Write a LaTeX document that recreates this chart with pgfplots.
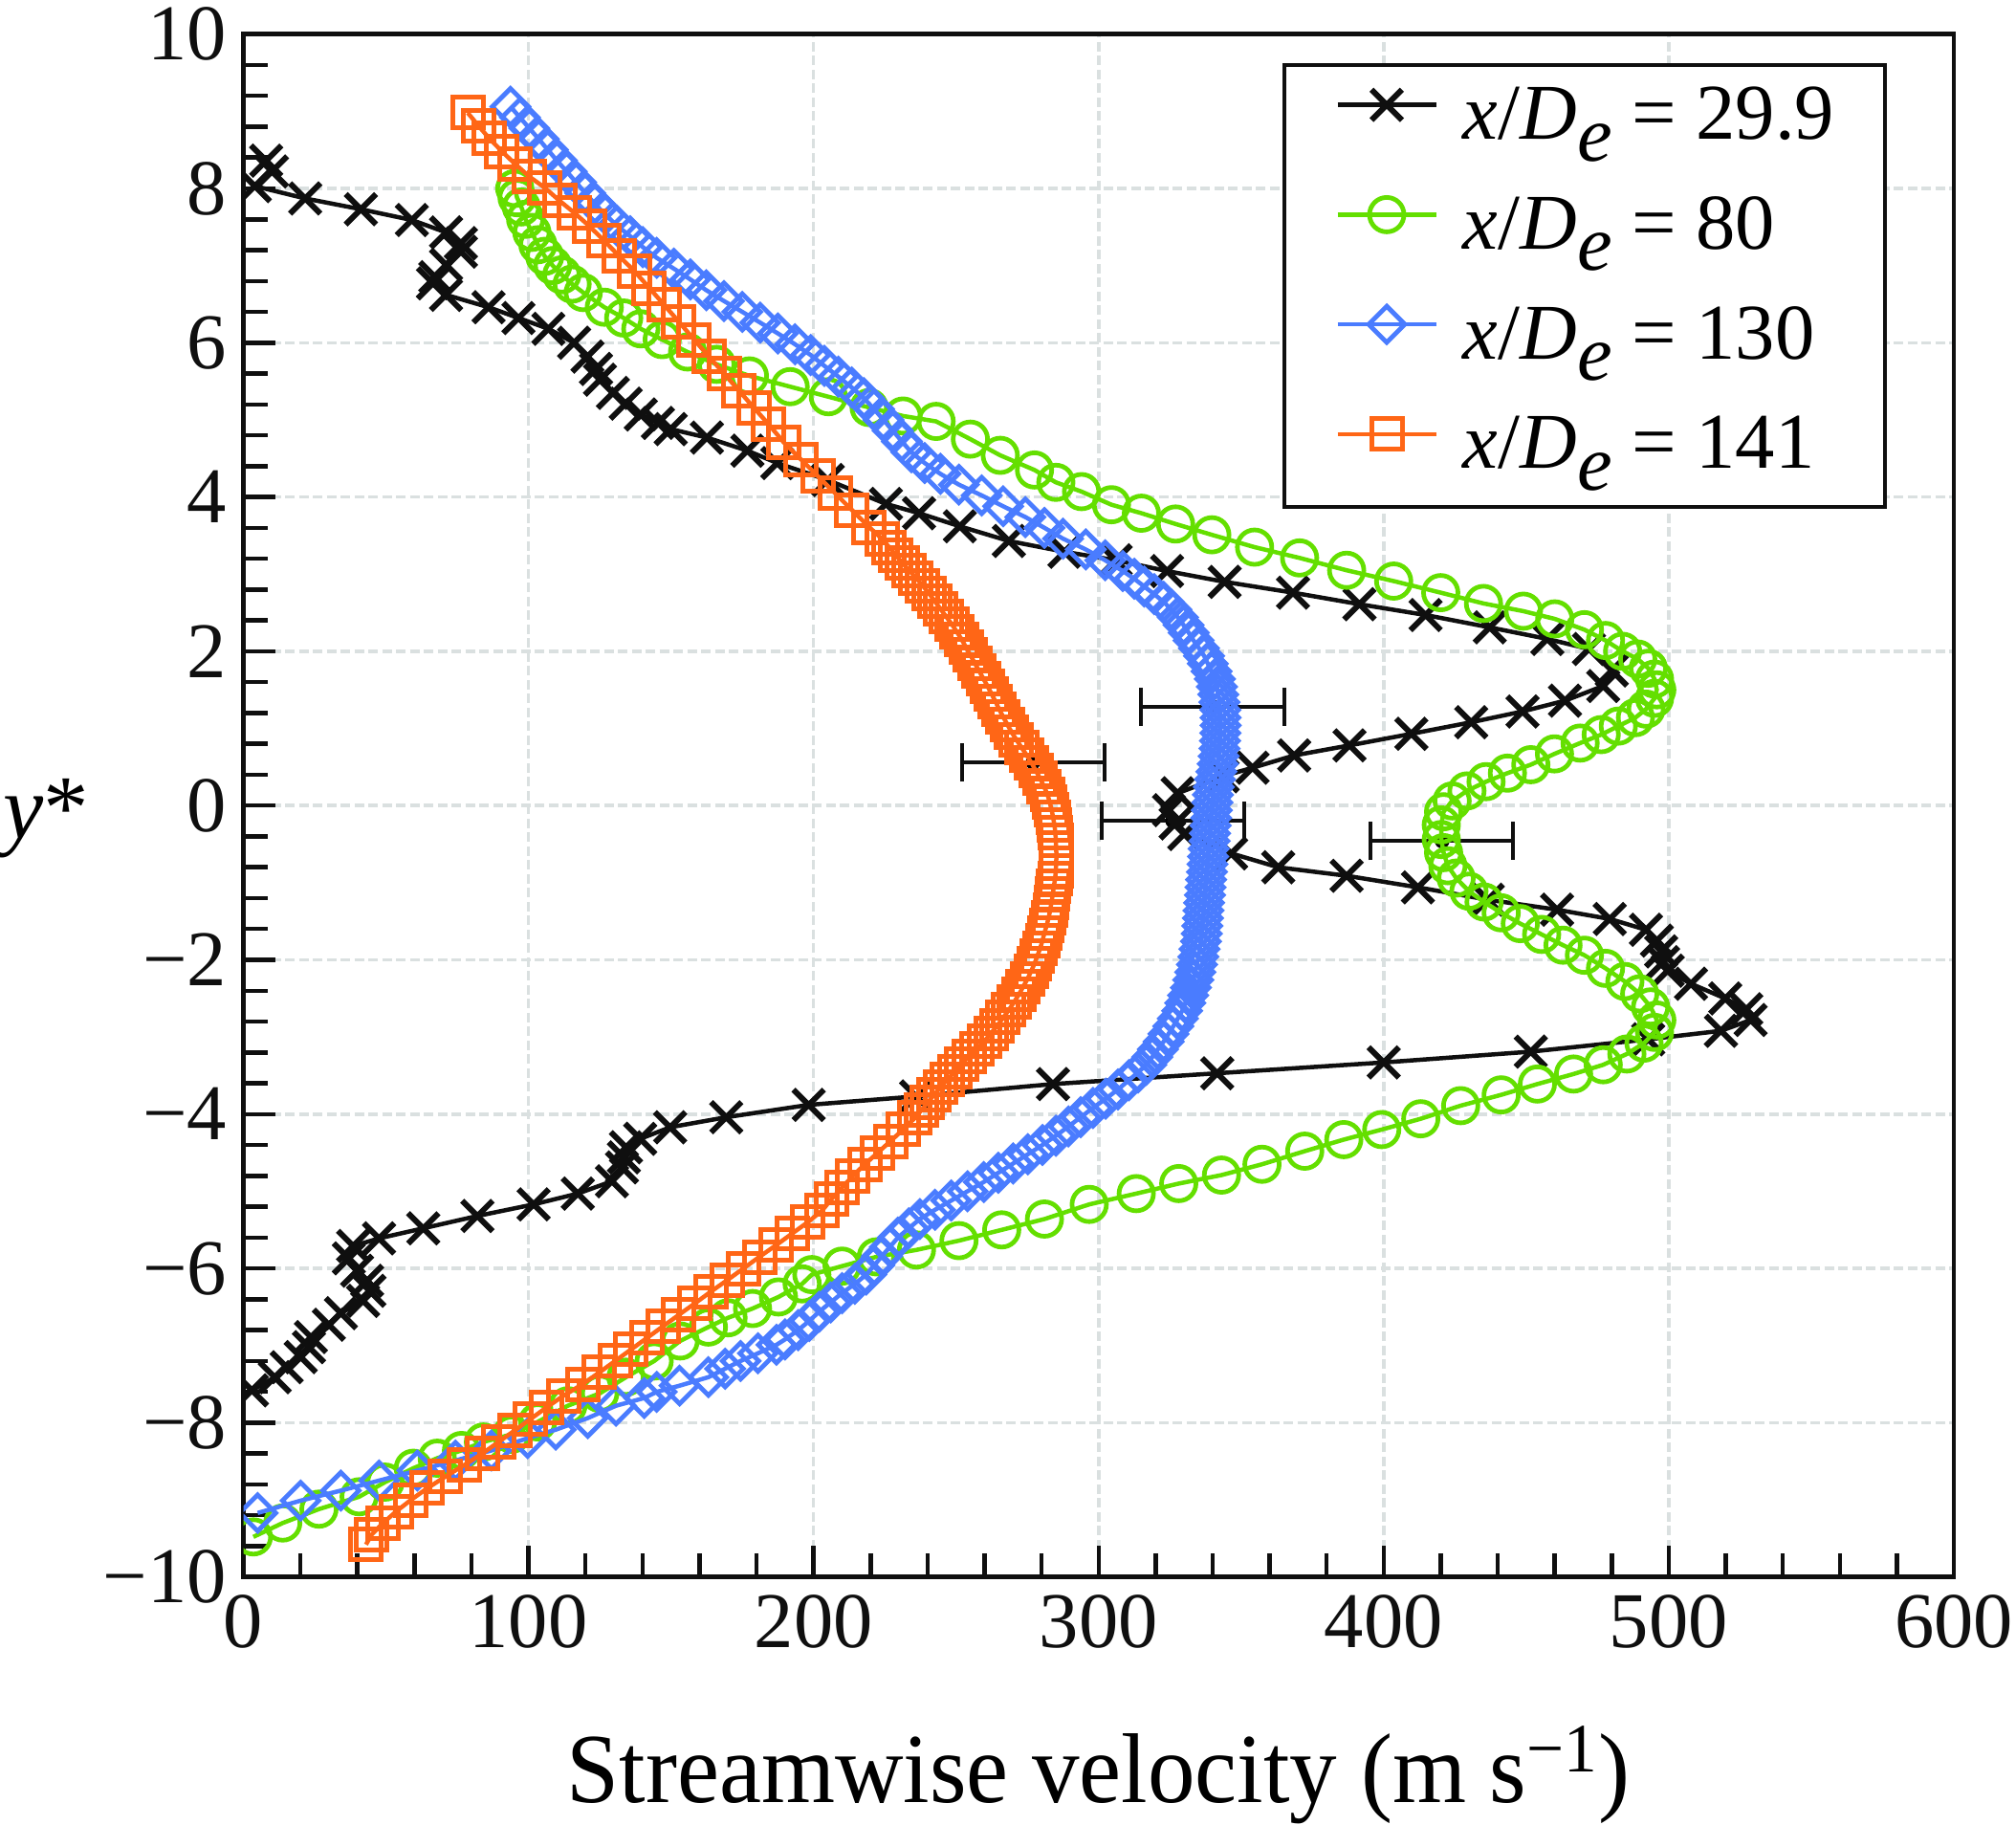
\documentclass[border=0pt]{standalone}
\usepackage{fontspec}
\setmainfont{Liberation Serif}
\usepackage{graphicx}
\usepackage{pgfplots}
\pgfplotsset{compat=1.18}
\definecolor{cgreen}{RGB}{100,223,0}
\definecolor{cblue}{RGB}{74,124,255}
\definecolor{corange}{RGB}{255,102,22}
\definecolor{cblack}{RGB}{15,15,15}
\definecolor{gridgray}{RGB}{218,224,224}
\newcommand{\leg}[1]{\textit{x}/\textit{D}\raisebox{-0.27em}{\textit{e}} = #1}
\begin{document}
\begin{tikzpicture}
\useasboundingbox (0,0) rectangle (210.8mm,190.7mm);
\begin{axis}[
  at={(25.45mm,25.83mm)}, anchor=south west,
  scale only axis, width=178.85mm, height=161.3mm,
  xmin=0, xmax=600, ymin=-10, ymax=10,
  xtick={0,100,200,300,400,500,600},
  xticklabels={0,100,200,300,400,500,600},
  ytick={-10,-8,-6,-4,-2,0,2,4,6,8,10},
  yticklabels={−10,−8,−6,−4,−2,0,2,4,6,8,10},
  minor x tick num=4, minor y tick num=4,
  tick pos=left, tick align=inside,
  major tick length=3.3mm, minor tick length=2.5mm,
  every tick/.style={line width=0.45mm, cblack},
  axis line style={line width=0.45mm, cblack},
  ticklabel style={font=\fontsize{23.5}{28}\selectfont, cblack},
  xticklabel style={yshift=-0.6mm},
  yticklabel style={xshift=-0.5mm},
  grid=major,
  major grid style={dash pattern=on 1mm off 0.45mm, line width=0.35mm, gridgray},
  xlabel={\scalebox{0.955}[1]{Streamwise velocity (m s\textsuperscript{−1})}},
  xlabel style={font=\fontsize{29.5}{35}\selectfont, at={(axis description cs:0.5,0)}, anchor=base, yshift=-23.6mm},
  ylabel={\textit{y}*},
  ylabel style={font=\fontsize{27}{32}\selectfont, at={(axis description cs:0,0.5)}, rotate=-90, anchor=base west, inner sep=0pt, xshift=-25.2mm, yshift=-3.4mm},
  clip marker paths=true,
  legend style={at={(0.9609,0.9814)}, anchor=north east, draw=cblack, line width=0.4mm,
    font=\fontsize{23.5}{28}\selectfont, inner xsep=5.3mm, inner ysep=1.6mm,
    row sep=2.87mm,
    nodes={inner sep=0pt, text height=6.2mm, text depth=2.4mm}},
  legend cell align=left,
  /tikz/every odd column/.append style={column sep=2.6mm},
  legend image code/.code={\draw[mark repeat=2,mark phase=2,#1] plot coordinates {(0mm,1.7mm) (5.15mm,1.7mm) (10.3mm,1.7mm)};},
]
% error bars
\addplot[only marks, mark=none, forget plot,
  error bars/.cd, x dir=both, x explicit,
  error bar style={draw=cblack, solid, line width=0.4mm},
  error mark options={draw=cblack, solid, line width=0.4mm, mark size=2mm, rotate=90}]
  coordinates {(340,1.28) +- (25,0) (277,0.56) +- (25,0) (326,-0.20) +- (25,0) (420.5,-0.46) +- (25,0)};

% x/De = 29.9
\addplot[cblack, line width=0.45mm, mark=x, mark size=2.25mm, mark options={line width=0.6mm, solid}] table {
8 8.36
10 8.22
4 8.03
21.7 7.87
41.2 7.73
59.1 7.59
71.1 7.43
76.3 7.29
76.3 7.18
71.1 7.01
67.3 6.85
66.5 6.77
71.1 6.62
86 6.46
96.5 6.32
107 6.18
116 6.00
120.7 5.82
123.7 5.66
125.1 5.52
129.6 5.35
134.1 5.21
139.4 5.07
145.4 4.96
149.9 4.88
162.6 4.77
176.8 4.60
187.3 4.44
205 4.22
225.4 3.91
237 3.79
251.3 3.62
268.5 3.43
288 3.29
306 3.18
324 3.04
344.2 2.90
368.2 2.76
391.5 2.61
414.7 2.47
437.2 2.31
457.4 2.16
472 2.03
480 1.75
477 1.55
463.6 1.36
448.7 1.22
430.7 1.08
409.7 0.93
388 0.78
368.6 0.65
354 0.49
343.5 0.38
327.7 0.16
324.7 -0.06
327 -0.23
330 -0.37
346.5 -0.62
363 -0.80
387 -0.91
412 -1.06
436.5 -1.22
460.8 -1.35
479.3 -1.47
492 -1.61
495.8 -1.75
497.3 -1.89
498 -2.03
499.6 -2.14
507.8 -2.31
519.8 -2.50
527.2 -2.64
528.7 -2.78
518.3 -2.92
492.8 -3.03
451.6 -3.19
400 -3.33
341.6 -3.47
284 -3.61
236 -3.77
198.3 -3.88
169.4 -4.04
149.7 -4.17
139.2 -4.32
134.2 -4.43
133.5 -4.56
132.8 -4.69
129.3 -4.87
117.3 -5.03
101.8 -5.17
82.1 -5.32
63.1 -5.48
47.6 -5.61
38.5 -5.71
37 -5.87
39.9 -6.03
43.4 -6.16
44.2 -6.29
42 -6.42
34.2 -6.58
30 -6.73
23.7 -6.89
23 -7.02
20.1 -7.15
15.2 -7.28
11 -7.41
3 -7.58
};
\addlegendentry{\leg{29.9}}

% x/De = 80
\addplot[cgreen, line width=0.45mm, mark=o, mark size=1.8mm, mark options={line width=0.48mm, solid}] table {
95.2 8.00
96 7.88
97.5 7.76
99 7.60
101.2 7.43
103.3 7.27
105.7 7.12
108.5 7.00
111.7 6.88
115.3 6.76
119.2 6.65
126.6 6.46
133.4 6.32
139.4 6.18
146.9 6.04
155.8 5.88
166 5.72
177.5 5.57
191.8 5.43
205.2 5.30
219.5 5.16
231.4 5.05
243 4.98
255 4.75
265.5 4.54
277.5 4.35
285 4.19
294 4.07
304.5 3.90
315 3.79
327 3.65
339.7 3.51
354.7 3.35
370.5 3.21
387 3.05
403.5 2.91
420 2.76
435 2.62
449 2.52
460 2.42
470.4 2.28
477.8 2.14
483.8 2.00
489.1 1.90
492.8 1.78
495 1.64
495.8 1.50
495 1.39
492 1.25
488.3 1.14
482.3 1.03
476.3 0.92
468.9 0.81
459.9 0.67
451.6 0.53
443.4 0.42
435.9 0.31
429.2 0.19
424 0.06
421 -0.08
420.2 -0.25
420.2 -0.44
421 -0.61
422.5 -0.78
425.4 -0.94
429.9 -1.11
435.2 -1.25
441.2 -1.39
447.9 -1.53
455.4 -1.67
462.9 -1.81
470.4 -1.94
477.8 -2.11
484.6 -2.28
489.8 -2.44
493.6 -2.61
495.8 -2.78
495 -2.94
491.3 -3.08
485.3 -3.22
477 -3.36
466.6 -3.48
453.9 -3.61
441.2 -3.75
427 -3.89
413 -4.06
399.3 -4.20
386 -4.33
372.3 -4.48
357.3 -4.65
343.1 -4.79
328.1 -4.90
313.2 -5.03
296.7 -5.17
281 -5.36
266 -5.50
251 -5.64
236.1 -5.76
222 -5.85
210 -5.97
199.4 -6.08
196 -6.20
187.7 -6.37
178.6 -6.52
170 -6.64
163.1 -6.76
153.2 -6.94
144.1 -7.20
134.2 -7.41
125 -7.62
113.8 -7.78
103.2 -7.99
94.1 -8.15
84.2 -8.25
76.5 -8.36
68 -8.46
59.6 -8.59
49.7 -8.77
40.6 -8.96
26.5 -9.12
13.8 -9.30
3.5 -9.48
};
\addlegendentry{\leg{80}}

% x/De = 130
\addplot[cblue, line width=0.45mm, mark=square, mark size=1.34mm, mark options={line width=0.48mm, solid, rotate=45}] table {
93.7 9.06
97 8.92
100.3 8.78
103.6 8.64
106.8 8.50
110 8.36
113.4 8.22
116.7 8.08
119.9 7.94
123.3 7.80
127 7.66
131 7.52
135.7 7.38
140.1 7.24
145 7.10
151 6.96
156.8 6.82
162.4 6.68
168.6 6.54
175 6.40
181.3 6.26
187.5 6.12
193.5 5.98
199 5.84
203.8 5.70
208.7 5.56
213.4 5.42
217.7 5.28
221.2 5.14
224.5 5.00
227.8 4.86
231 4.72
234.3 4.58
239 4.44
244.5 4.30
251 4.16
259 4.02
266.5 3.88
274.3 3.74
281 3.60
287.5 3.46
295.5 3.32
302.3 3.18
308.5 3.04
312.5 2.94
316 2.84
319.5 2.74
322.8 2.64
325.5 2.54
327.8 2.44
329.8 2.34
331.6 2.24
333.3 2.14
335.2 2.04
337 1.94
338.3 1.84
339.6 1.74
340.8 1.64
341.5 1.54
342 1.44
342.4 1.34
342.7 1.24
342.8 1.14
342.8 1.04
342.7 0.94
342.6 0.84
342.4 0.74
342.1 0.64
341.8 0.54
341.3 0.44
340.8 0.34
340.4 0.24
340.1 0.14
339.9 0.04
339.7 -0.06
339.5 -0.16
339.3 -0.26
339.1 -0.36
338.9 -0.46
338.6 -0.56
338.4 -0.66
338.2 -0.76
338 -0.86
337.7 -0.96
337.5 -1.06
337.3 -1.16
337 -1.26
336.8 -1.36
336.6 -1.46
336.4 -1.56
336.2 -1.66
335.9 -1.76
335.4 -1.86
335 -1.96
334.5 -2.06
333.9 -2.16
333.2 -2.26
332.4 -2.36
331.4 -2.46
330.4 -2.56
329.3 -2.66
327.8 -2.76
326.2 -2.86
324.5 -2.96
322.8 -3.06
320.8 -3.16
318.8 -3.26
316.7 -3.36
313.8 -3.46
310.6 -3.56
306.8 -3.68
302.5 -3.80
298 -3.92
293.7 -4.04
289.4 -4.16
285 -4.28
280.3 -4.40
275.2 -4.52
270 -4.64
264.8 -4.76
259.7 -4.88
254 -5.00
248.3 -5.12
242.6 -5.24
237.3 -5.36
233.4 -5.48
229.6 -5.60
226.8 -5.72
224 -5.84
221.3 -5.96
218.5 -6.08
214.5 -6.20
210 -6.32
206 -6.44
202 -6.56
198.5 -6.68
194.6 -6.80
190 -6.92
187 -6.99
180.5 -7.10
174.4 -7.20
169 -7.30
163.1 -7.41
153 -7.52
145 -7.60
140.6 -7.68
130.7 -7.78
120.8 -7.94
109.6 -8.09
99.7 -8.20
87 -8.36
74.4 -8.49
61 -8.62
47.6 -8.75
34.2 -8.88
20.1 -9.01
5 -9.17
};
\addlegendentry{\leg{130}}

% x/De = 141
\addplot[corange, line width=0.45mm, mark=square, mark size=1.6mm, mark options={line width=0.5mm, solid}] table {
78.7 8.98
82.5 8.81
86.2 8.65
90.7 8.48
95.2 8.32
100.4 8.15
105.7 8.01
110.9 7.84
116.2 7.68
121.4 7.51
126.6 7.32
131.9 7.12
137.1 6.93
142.4 6.71
147.6 6.49
152.8 6.27
158.1 6.04
163.3 5.82
168.6 5.60
173.8 5.38
179.0 5.16
184.3 4.94
189.5 4.71
195.5 4.49
201.5 4.27
207.5 4.05
213.5 3.83
219.5 3.61
224.2 3.45
226.5 3.35
228.8 3.25
231 3.15
233.5 3.05
236 2.95
238.3 2.85
240.5 2.75
242.5 2.65
244.5 2.55
246.5 2.45
248.5 2.35
250.3 2.25
252 2.15
253.5 2.05
255 1.95
256.5 1.85
258 1.75
259.5 1.65
261 1.55
262.4 1.45
263.8 1.35
265.1 1.25
266.5 1.15
268 1.05
269.5 0.95
271.2 0.85
273 0.75
274.8 0.65
276.5 0.55
278 0.45
279.5 0.35
280.8 0.25
282 0.15
282.8 0.05
283.5 -0.05
284 -0.15
284.5 -0.25
284.8 -0.35
285 -0.45
285.1 -0.55
285.2 -0.65
285.1 -0.75
285 -0.85
284.7 -0.95
284.3 -1.05
283.9 -1.15
283.5 -1.25
283 -1.35
282.5 -1.45
281.8 -1.55
281 -1.65
280.3 -1.75
279.5 -1.85
278.5 -1.95
277.5 -2.05
276.3 -2.15
275 -2.25
273.5 -2.35
272 -2.45
270.3 -2.55
268.5 -2.65
266.5 -2.75
264.5 -2.85
262.3 -2.95
260 -3.05
257.3 -3.15
254.5 -3.25
252 -3.35
249.5 -3.45
247 -3.55
244.5 -3.65
242.3 -3.75
240 -3.85
237.8 -3.95
235.5 -4.05
231.4 -4.20
227 -4.35
222.5 -4.50
218 -4.65
213.8 -4.80
210 -4.95
206.3 -5.10
203 -5.25
198 -5.40
192.4 -5.55
186.8 -5.70
181 -5.85
175.4 -6.00
169.8 -6.15
164 -6.30
158.5 -6.45
152.8 -6.60
147.2 -6.75
141.6 -6.90
136 -7.05
130.4 -7.20
124.8 -7.35
119 -7.50
112.3 -7.65
106.4 -7.80
100.8 -7.95
95.2 -8.10
89.5 -8.25
83.8 -8.40
77.4 -8.55
70.8 -8.70
64.5 -8.85
58.8 -9.00
53.6 -9.15
49 -9.30
45 -9.45
43 -9.58
};
\addlegendentry{\leg{141}}
\end{axis}
\end{tikzpicture}
\end{document}
